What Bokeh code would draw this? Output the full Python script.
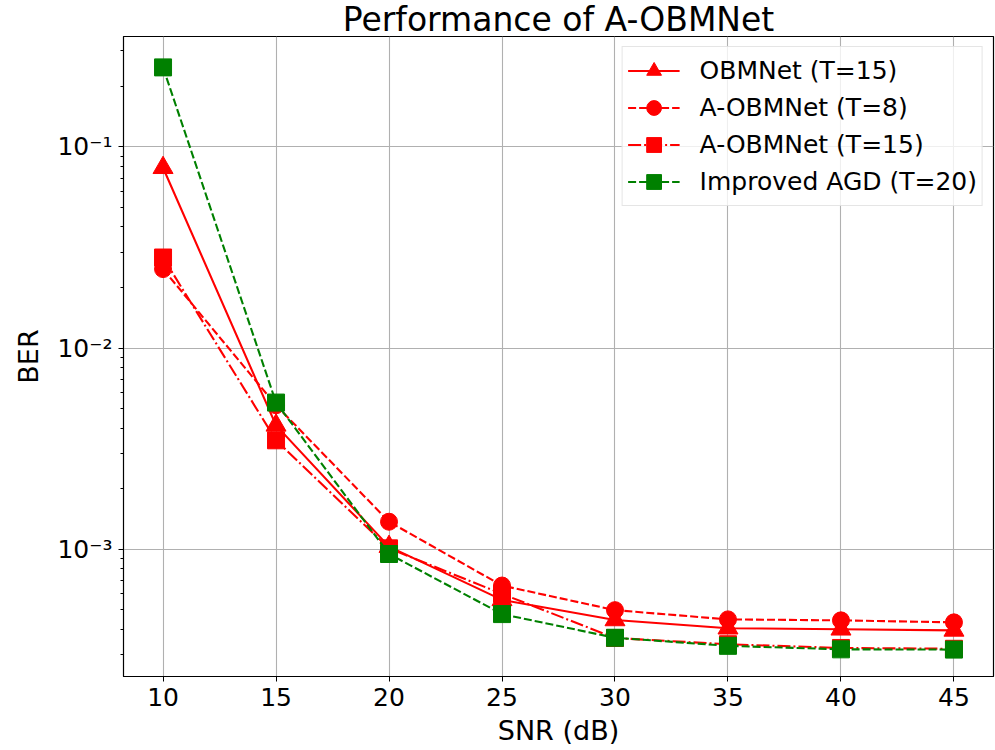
from bokeh.plotting import figure
from bokeh.models import Range1d, FixedTicker, CustomJSTickFormatter, Legend, LegendItem
from bokeh.embed import file_html
from bokeh.resources import INLINE

snr = [10, 15, 20, 25, 30, 35, 40, 45]
obmnet_t15 = [0.0788, 4.13e-3, 1.03e-3, 5.6e-4, 4.45e-4, 4.05e-4, 4.0e-4, 3.95e-4]
aobmnet_t8 = [0.0247, 5.2e-3, 1.37e-3, 6.6e-4, 4.98e-4, 4.48e-4, 4.43e-4, 4.33e-4]
aobmnet_t15 = [0.0282, 3.48e-3, 1.01e-3, 6.0e-4, 3.62e-4, 3.37e-4, 3.23e-4, 3.2e-4]
improved_agd_t20 = [0.2486, 5.36e-3, 9.47e-4, 4.76e-4, 3.63e-4, 3.31e-4, 3.18e-4, 3.17e-4]

x_ticks = [10, 15, 20, 25, 30, 35, 40, 45]
y_major_ticks = [1e-3, 1e-2, 1e-1]
y_minor_ticks = [k * 10.0 ** n for n in (-4, -3, -2, -1) for k in range(2, 10)]

FONT = "DejaVu Sans"

p = figure(width=995, height=750, y_axis_type="log", output_backend="svg",
           toolbar_location=None,
           x_range=Range1d(8.25, 46.75), y_range=Range1d(2.33e-4, 0.354),
           min_border_left=123, min_border_right=2, min_border_top=0, min_border_bottom=74)

p.title.text = "Performance of A-OBMNet"
p.title.align = "center"
p.title.text_font = FONT
p.title.text_font_size = "33px"
p.title.text_font_style = "normal"
p.title.text_color = "black"
p.title.standoff = -5
p.title.offset = 0

p.outline_line_color = "black"
p.outline_line_width = 1.2
p.background_fill_color = "white"
p.border_fill_color = "white"

p.xaxis.ticker = FixedTicker(ticks=x_ticks)
p.yaxis.ticker = FixedTicker(ticks=y_major_ticks, minor_ticks=y_minor_ticks)
p.yaxis.formatter = CustomJSTickFormatter(code="""
const e = Math.round(Math.log10(tick));
const sup = {'-':'\u207b','0':'\u2070','1':'\u00b9','2':'\u00b2','3':'\u00b3','4':'\u2074','5':'\u2075','6':'\u2076','7':'\u2077','8':'\u2078','9':'\u2079'};
return '10' + String(e).split('').map(c => sup[c]).join('');
""")

for ax in (p.xaxis, p.yaxis):
    ax.axis_line_color = "black"
    ax.major_tick_line_color = "black"
    ax.minor_tick_line_color = "black"
    ax.major_tick_out = 5
    ax.major_tick_in = 0
    ax.minor_tick_out = 3
    ax.minor_tick_in = 0
    ax.major_label_text_font = FONT
    ax.major_label_text_font_size = "25px"
    ax.major_label_text_color = "black"
    ax.axis_label_text_font = FONT
    ax.axis_label_text_font_size = "27px"
    ax.axis_label_text_font_style = "normal"
    ax.axis_label_text_color = "black"

p.xaxis.axis_label = "SNR (dB)"
p.yaxis.axis_label = "BER"
p.xaxis.major_label_standoff = 6
p.yaxis.major_label_standoff = 6
p.xaxis.axis_label_standoff = 6
p.yaxis.axis_label_standoff = 10

p.xgrid.grid_line_color = "#b0b0b0"
p.ygrid.grid_line_color = "#b0b0b0"
p.xgrid.grid_line_width = 1.1
p.ygrid.grid_line_width = 1.1

LW = 2.1
DASHED = "8 3"
DASHDOT = "13 3 2 3"

r1l = p.line(snr, obmnet_t15, color="red", line_width=LW)
r1m = p.scatter(snr, obmnet_t15, marker="triangle", size=20, color="red")
r2l = p.line(snr, aobmnet_t8, color="red", line_width=LW, line_dash=DASHED)
r2m = p.scatter(snr, aobmnet_t8, marker="circle", size=17, color="red")
r3l = p.line(snr, aobmnet_t15, color="red", line_width=LW, line_dash=DASHDOT)
r3m = p.scatter(snr, aobmnet_t15, marker="square", size=17, color="red")
r4l = p.line(snr, improved_agd_t20, color="green", line_width=LW, line_dash=DASHED)
r4m = p.scatter(snr, improved_agd_t20, marker="square", size=17, color="green")

legend = Legend(items=[
    LegendItem(label="OBMNet (T=15)", renderers=[r1l, r1m]),
    LegendItem(label="A-OBMNet (T=8)", renderers=[r2l, r2m]),
    LegendItem(label="A-OBMNet (T=15)", renderers=[r3l, r3m]),
    LegendItem(label="Improved AGD (T=20)", renderers=[r4l, r4m]),
], location="top_right")
legend.label_text_font = FONT
legend.label_text_font_size = "25px"
legend.label_text_color = "black"
legend.glyph_width = 52
legend.glyph_height = 37
legend.label_standoff = 20
legend.spacing = 0
legend.padding = 5
legend.margin = 10
legend.border_line_color = "#cccccc"
legend.border_line_width = 1.2
legend.background_fill_alpha = 0.8
p.add_layout(legend)

open("out.html", "w").write(file_html(p, INLINE))
